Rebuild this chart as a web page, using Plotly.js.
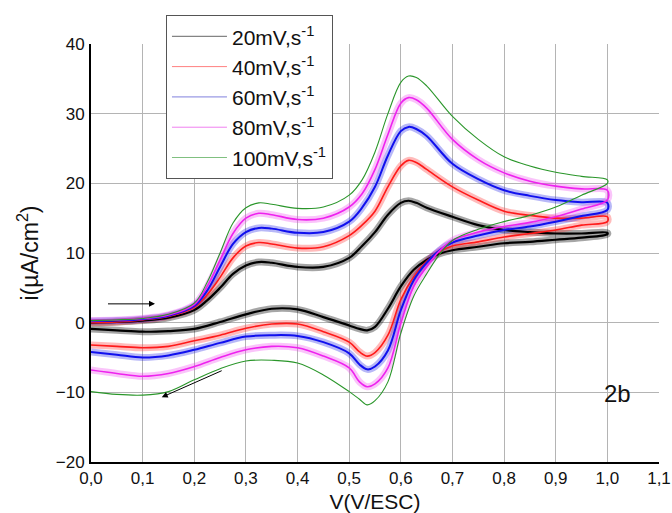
<!DOCTYPE html>
<html>
<head>
<meta charset="utf-8">
<script src="https://cdn.plot.ly/plotly-3.0.1.min.js"></script>
<style>html,body{margin:0;padding:0;background:#fff;}#chart{width:672px;height:513px;}</style>
</head>
<body>
<div id="chart"></div>
<script>
// Forward (anodic) scan potentials, V/ESC
const xForward = [0, 0.05, 0.1, 0.15, 0.2, 0.225, 0.25, 0.275, 0.3, 0.325, 0.35, 0.4, 0.45, 0.5, 0.525, 0.55, 0.575, 0.6, 0.615, 0.63, 0.65, 0.7, 0.75, 0.8, 0.85, 0.9, 0.95, 1.0];
// Reverse (cathodic) scan potentials, V/ESC
const xReverse = [1.0, 0.95, 0.9, 0.85, 0.8, 0.75, 0.7, 0.675, 0.65, 0.625, 0.6, 0.575, 0.55, 0.535, 0.52, 0.5, 0.45, 0.4, 0.35, 0.3, 0.25, 0.2, 0.15, 0.1, 0.05, 0];

const seriesNames = ['20mV,s<sup>-1</sup>', '40mV,s<sup>-1</sup>', '60mV,s<sup>-1</sup>', '80mV,s<sup>-1</sup>', '100mV,s<sup>-1</sup>'];

// current density i (µA/cm²), forward scan
const fwd20  = [0.0, 0.1, 0.3, 0.7, 1.8, 3.2, 5.0, 7.0, 8.2, 8.7, 8.6, 8.0, 8.0, 9.3, 11.0, 13.0, 15.5, 17.2, 17.5, 17.2, 16.5, 15.2, 14.0, 13.3, 13.0, 12.8, 12.8, 12.9];
const fwd40  = [0.0, 0.1, 0.4, 0.9, 2.2, 4.0, 6.5, 9.3, 11.0, 11.5, 11.3, 10.7, 10.9, 12.5, 14.0, 16.0, 19.5, 22.5, 23.3, 23.0, 22.0, 19.5, 17.6, 16.0, 15.4, 15.0, 15.0, 15.2];
const fwd60  = [0.2, 0.3, 0.5, 1.0, 2.4, 4.6, 8.0, 11.3, 13.0, 13.6, 13.5, 12.9, 13.0, 14.5, 16.5, 19.5, 24.0, 27.5, 28.1, 27.8, 26.8, 22.8, 20.6, 19.0, 18.2, 17.6, 17.3, 17.2];
const fwd80  = [0.3, 0.4, 0.6, 1.1, 2.6, 5.2, 9.0, 12.8, 15.0, 15.7, 15.5, 14.8, 15.0, 16.6, 18.5, 22.0, 27.0, 31.5, 32.3, 32.0, 30.8, 26.3, 23.4, 21.5, 20.3, 19.6, 19.2, 19.0];
const fwd100 = [0.3, 0.4, 0.6, 1.2, 2.8, 5.8, 10.0, 14.3, 16.5, 17.2, 17.0, 16.4, 16.6, 18.3, 20.5, 24.5, 30.0, 34.5, 35.4, 35.2, 34.0, 29.6, 26.3, 23.8, 22.5, 21.6, 21.0, 20.5];

// current density i (µA/cm²), reverse scan
const rev20  = [12.7, 12.2, 11.9, 11.6, 11.4, 10.9, 10.4, 9.9, 9.0, 7.6, 5.2, 2.0, -0.6, -1.1, -0.9, -0.4, 0.8, 1.9, 2.0, 1.2, 0.1, -0.9, -1.2, -1.3, -1.1, -0.9];
const rev40  = [14.5, 14.0, 13.3, 12.8, 12.3, 11.6, 11.0, 10.2, 8.8, 6.6, 3.3, -1.8, -4.3, -4.8, -4.2, -2.8, -1.3, -0.2, -0.2, -0.8, -1.8, -2.6, -3.4, -3.6, -3.4, -3.2];
const rev60  = [16.2, 15.3, 14.5, 13.8, 13.3, 12.5, 11.5, 10.4, 8.6, 6.1, 1.8, -4.0, -6.3, -6.7, -6.0, -4.4, -2.8, -1.9, -1.8, -2.0, -2.9, -3.9, -4.7, -5.0, -4.6, -4.2];
const rev80  = [17.6, 16.3, 15.2, 14.4, 13.8, 13.0, 11.8, 10.3, 8.0, 5.2, -0.1, -6.5, -8.8, -9.2, -8.5, -6.5, -4.8, -3.6, -3.4, -3.9, -5.0, -6.3, -7.3, -7.7, -7.3, -6.8];
const rev100 = [20.0, 18.3, 16.6, 15.4, 14.5, 13.4, 11.8, 9.8, 7.0, 3.8, -1.5, -8.5, -11.2, -11.8, -11.0, -9.9, -7.5, -5.8, -5.4, -5.5, -6.6, -8.2, -9.9, -10.4, -10.3, -9.9];

const xTickVals = [0, 0.1, 0.2, 0.3, 0.4, 0.5, 0.6, 0.7, 0.8, 0.9, 1.0, 1.1];
const yTickVals = [-20, -10, 0, 10, 20, 30, 40];

const fwdAll = [fwd20, fwd40, fwd60, fwd80, fwd100];
const revAll = [rev20, rev40, rev60, rev80, rev100];
const coreColors = ['#000000', '#ff1a1a', '#1010ee', '#ee22ee', '#2a962a'];
const haloColors = ['rgba(0,0,0,0.35)', 'rgba(255,60,60,0.35)', 'rgba(20,20,230,0.30)', 'rgba(240,60,240,0.30)', 'rgba(0,0,0,0)'];
const legendColors = ['#666666', '#ff8080', '#8080dd', '#f080f0', '#80c080'];
const coreWidths = [2.2, 1.6, 2.0, 1.6, 1.1];
const haloWidths = [7, 7, 7, 7, 0];

const xLoop = xForward.concat(xReverse);
const traces = [];
for (let i = 0; i < 5; i++) {
  const yLoop = fwdAll[i].concat(revAll[i]);
  if (haloWidths[i] > 0) {
    traces.push({x: xLoop, y: yLoop, type: 'scatter', mode: 'lines', showlegend: false, hoverinfo: 'skip',
      line: {color: haloColors[i], width: haloWidths[i], shape: 'spline', smoothing: 1}});
  }
}
for (let i = 0; i < 5; i++) {
  const yLoop = fwdAll[i].concat(revAll[i]);
  traces.push({x: xLoop, y: yLoop, type: 'scatter', mode: 'lines', showlegend: false, hoverinfo: 'skip',
    line: {color: coreColors[i], width: coreWidths[i], shape: 'spline', smoothing: 1}});
}
// legend entries (thin sample lines, as in the reference legend)
for (let i = 0; i < 5; i++) {
  traces.push({x: [null], y: [null], type: 'scatter', mode: 'lines', name: seriesNames[i],
    line: {color: legendColors[i], width: 1}});
}

const layout = {
  width: 672, height: 513,
  margin: {l: 91, r: 13, t: 44, b: 51},
  paper_bgcolor: '#ffffff', plot_bgcolor: '#ffffff',
  font: {family: 'Liberation Sans, Arial, sans-serif', color: '#111', size: 17},
  separators: ', ',
  showlegend: true,
  legend: {x: 0.132, y: 1.069, xanchor: 'left', yanchor: 'top', bgcolor: '#ffffff',
    bordercolor: '#555555', borderwidth: 1, font: {size: 21, color: '#111'}, itemwidth: 55,
    tracegroupgap: 0},
  xaxis: {range: [0, 1.1], tickvals: xTickVals, tickformat: '.1f', showgrid: true, gridcolor: '#b4b4b4', gridwidth: 1,
    zeroline: false, showline: true, linecolor: '#000', linewidth: 2, ticks: '', ticklabelstandoff: 0,
    title: {text: 'V(V/ESC)', font: {size: 21}, standoff: 8}, fixedrange: true},
  yaxis: {range: [-20, 40], tickvals: yTickVals, showgrid: true, gridcolor: '#b4b4b4', gridwidth: 1,
    zeroline: false, showline: true, linecolor: '#000', linewidth: 2, ticks: '', ticklabelstandoff: 1,
    title: {text: 'i(µA/cm<sup>2</sup>)', font: {size: 23}, standoff: 11}, fixedrange: true},
  annotations: [
    {x: 0.124, y: 2.7, ax: 0.030, ay: 2.7, xref: 'x', yref: 'y', axref: 'x', ayref: 'y', text: '', showarrow: true,
      arrowhead: 2, arrowsize: 1.2, arrowwidth: 1, arrowcolor: '#000'},
    {x: 0.137, y: -10.7, ax: 0.256, ay: -6.8, xref: 'x', yref: 'y', axref: 'x', ayref: 'y', text: '', showarrow: true,
      arrowhead: 2, arrowsize: 1.2, arrowwidth: 1, arrowcolor: '#000'},
    {x: 1.02, y: -10.2, xref: 'x', yref: 'y', text: '2b', showarrow: false, font: {size: 24, color: '#111'}}
  ]
};

Plotly.newPlot('chart', traces, layout, {displayModeBar: false, staticPlot: true});
</script>
</body>
</html>
